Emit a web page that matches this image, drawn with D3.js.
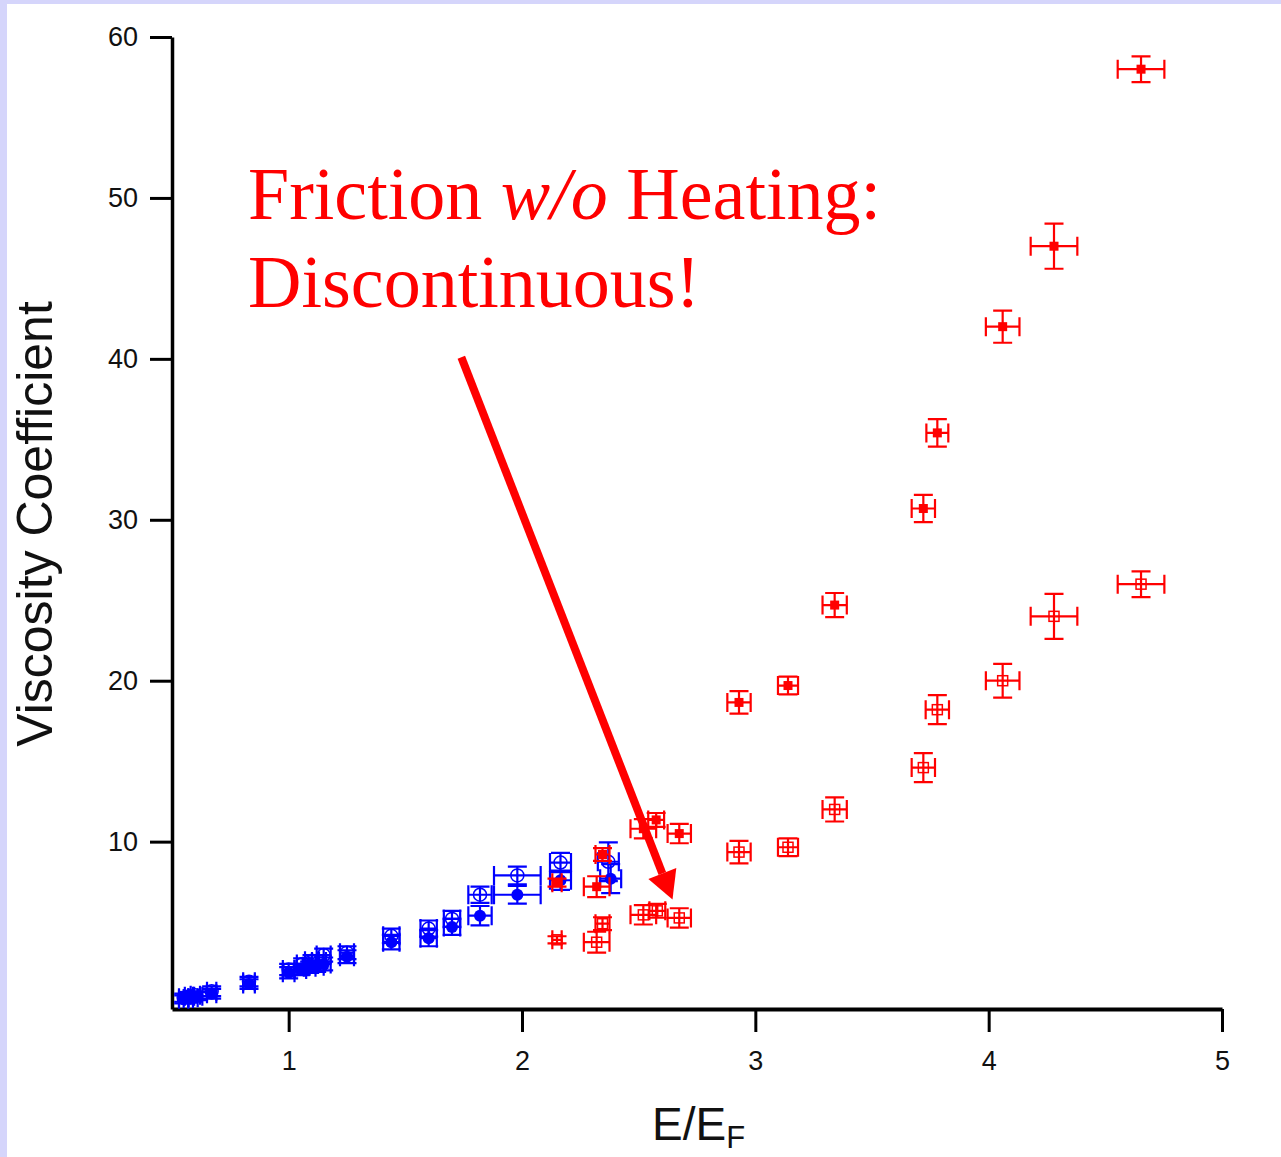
<!DOCTYPE html>
<html>
<head>
<meta charset="utf-8">
<script src="https://cdn.jsdelivr.net/npm/d3@7"></script>
<style>
  html, body { margin: 0; padding: 0; background: #d5d5fb; }
  svg { display: block; }
</style>
</head>
<body>
<div id="chart"></div>
<script>
// punti: [E/EF, viscosita, errore x, errore y]
const redFilled = [
  [4.653, 58.0, 0.10, 0.8], [4.28, 47.0, 0.10, 1.4], [4.06, 42.0, 0.072, 1.0],
  [3.78, 35.4, 0.047, 0.85], [3.72, 30.7, 0.05, 0.85], [3.34, 24.7, 0.052, 0.75],
  [3.14, 19.7, 0.043, 0.55], [2.93, 18.65, 0.05, 0.7], [2.674, 10.5, 0.05, 0.6],
  [2.575, 11.35, 0.034, 0.43], [2.52, 10.8, 0.055, 0.6], [2.345, 9.2, 0.03, 0.4],
  [2.32, 7.2, 0.055, 0.65], [2.15, 7.45, 0.02, 0.25]
];
const redOpen = [
  [4.653, 26.0, 0.10, 0.8], [4.28, 24.0, 0.10, 1.4], [4.06, 20.0, 0.072, 1.05],
  [3.78, 18.2, 0.05, 0.9], [3.72, 14.6, 0.05, 0.9], [3.34, 12.0, 0.052, 0.75],
  [3.14, 9.65, 0.043, 0.55], [2.93, 9.35, 0.05, 0.7], [2.674, 5.26, 0.05, 0.6],
  [2.58, 5.7, 0.034, 0.43], [2.52, 5.45, 0.055, 0.6], [2.345, 4.9, 0.03, 0.4],
  [2.32, 3.75, 0.055, 0.65], [2.15, 3.9, 0.02, 0.22]
];
const blueFilled = [
  [0.55, 0.2, 0.02, 0.25], [0.57, 0.25, 0.02, 0.25], [0.59, 0.3, 0.02, 0.25],
  [0.61, 0.4, 0.02, 0.25], [0.67, 0.55, 0.02, 0.3], [0.83, 1.15, 0.025, 0.3],
  [1.0, 1.85, 0.025, 0.35], [1.05, 2.05, 0.025, 0.35], [1.09, 2.2, 0.025, 0.35],
  [1.12, 2.25, 0.03, 0.35], [1.15, 2.4, 0.03, 0.4], [1.25, 2.85, 0.03, 0.4],
  [1.44, 3.75, 0.035, 0.45], [1.60, 4.0, 0.035, 0.5], [1.70, 4.7, 0.035, 0.5],
  [1.82, 5.4, 0.05, 0.6], [1.98, 6.7, 0.10, 0.55], [2.165, 7.6, 0.045, 0.6],
  [2.38, 7.7, 0.045, 0.9]
];
const blueOpen = [
  [0.55, 0.3, 0.02, 0.25], [0.575, 0.4, 0.02, 0.25], [0.60, 0.45, 0.02, 0.25],
  [0.67, 0.7, 0.02, 0.3], [0.83, 1.3, 0.025, 0.3], [1.0, 2.05, 0.025, 0.35],
  [1.06, 2.4, 0.025, 0.35], [1.10, 2.6, 0.03, 0.35], [1.13, 2.55, 0.03, 0.4],
  [1.15, 2.95, 0.03, 0.4], [1.25, 3.1, 0.03, 0.4], [1.44, 4.15, 0.035, 0.45],
  [1.60, 4.6, 0.035, 0.5], [1.70, 5.2, 0.035, 0.5], [1.82, 6.7, 0.05, 0.5],
  [1.98, 7.9, 0.10, 0.55], [2.165, 8.7, 0.045, 0.6], [2.37, 8.75, 0.045, 1.2]
];
const xTicks = [1, 2, 3, 4, 5];
const yTicks = [10, 20, 30, 40, 50, 60];
// freccia dell'annotazione, in coordinate dati: [partenza, punta]
const arrowPts = [[1.74, 40.1], [2.645, 6.4]];

const width = 1281, height = 1157;
const svg = d3.select('#chart').append('svg')
  .attr('width', width).attr('height', height);

// sfondo bianco con bordo lilla a sinistra e in alto
svg.append('rect').attr('x', 7).attr('y', 4)
  .attr('width', width - 7).attr('height', height - 4).attr('fill', '#fff');

const x = d3.scaleLinear().domain([0.5, 5]).range([172, 1222]);
const y = d3.scaleLinear().domain([-0.4, 60]).range([1009, 37]);

const font = 'Arial, "Liberation Sans", Helvetica, sans-serif';

// assi
const gx = svg.append('g').attr('transform', `translate(0,${y.range()[0]})`)
  .call(d3.axisBottom(x).tickValues(xTicks).tickFormat(d3.format('d'))
    .tickSize(23).tickSizeOuter(0).tickPadding(19));
gx.select('.domain').attr('stroke-width', 4).attr('stroke', '#000');
gx.selectAll('.tick line').attr('stroke-width', 3).attr('stroke', '#000');
gx.selectAll('.tick text').style('font', `27px ${font}`).attr('fill', '#111');

const gy = svg.append('g').attr('transform', `translate(${x.range()[0]},0)`)
  .call(d3.axisLeft(y).tickValues(yTicks).tickFormat(d3.format('d'))
    .tickSize(22).tickSizeOuter(0).tickPadding(12));
gy.select('.domain').attr('stroke-width', 3.5).attr('stroke', '#000');
gy.selectAll('.tick line').attr('stroke-width', 3).attr('stroke', '#000');
gy.selectAll('.tick text').style('font', `27px ${font}`).attr('fill', '#111');

// etichette degli assi
svg.append('text')
  .attr('transform', 'translate(52,524) rotate(-90)')
  .attr('text-anchor', 'middle')
  .style('font', `50px ${font}`).attr('fill', '#111')
  .text('Viscosity Coefficient');

const xl = svg.append('text').attr('x', 652).attr('y', 1140)
  .style('font', `46px ${font}`).attr('fill', '#111');
xl.append('tspan').text('E/E');
xl.append('tspan').attr('dy', 8).style('font-size', '31px').text('F');

// barre d'errore con cappucci di lunghezza fissa
const cap = 9.5;
function drawSeries(data, color, marker) {
  const g = svg.append('g').attr('stroke', color).attr('stroke-width', 2.2).attr('fill', 'none');
  data.forEach(d => {
    const cx = x(d[0]), cy = y(d[1]);
    const x0 = x(d[0] - d[2]), x1 = x(d[0] + d[2]);
    const y0 = y(d[1] + d[3]), y1 = y(d[1] - d[3]);
    const p = d3.path();
    p.moveTo(x0, cy); p.lineTo(x1, cy);
    p.moveTo(x0, cy - cap); p.lineTo(x0, cy + cap);
    p.moveTo(x1, cy - cap); p.lineTo(x1, cy + cap);
    p.moveTo(cx, y0); p.lineTo(cx, y1);
    p.moveTo(cx - cap, y0); p.lineTo(cx + cap, y0);
    p.moveTo(cx - cap, y1); p.lineTo(cx + cap, y1);
    g.append('path').attr('d', p.toString());
    if (marker === 'square') {
      g.append('rect').attr('x', cx - 4.5).attr('y', cy - 4.5)
        .attr('width', 9).attr('height', 9).attr('fill', color).attr('stroke', 'none');
    } else if (marker === 'openSquare') {
      g.append('rect').attr('x', cx - 5).attr('y', cy - 5)
        .attr('width', 10).attr('height', 10).attr('stroke-width', 1.5);
    } else if (marker === 'circle') {
      g.append('circle').attr('cx', cx).attr('cy', cy).attr('r', 6)
        .attr('fill', color).attr('stroke', 'none');
    } else {
      g.append('circle').attr('cx', cx).attr('cy', cy).attr('r', 6.5)
        .attr('stroke-width', 1.5);
    }
  });
}

drawSeries(blueOpen, '#0000ff', 'openCircle');
drawSeries(blueFilled, '#0000ff', 'circle');
drawSeries(redOpen, '#ff0000', 'openSquare');
drawSeries(redFilled, '#ff0000', 'square');

// annotazione
const note = svg.append('g').style('font', '74px "Liberation Serif", "Times New Roman", serif')
  .attr('fill', '#ff0000');
const l1 = note.append('text').attr('x', 248).attr('y', 219);
l1.append('tspan').text('Friction ');
l1.append('tspan').style('font-style', 'italic').text('w/o');
l1.append('tspan').text(' Heating:');
note.append('text').attr('x', 248).attr('y', 307).text('Discontinuous!');

// freccia
const [sx, sy] = [x(arrowPts[0][0]), y(arrowPts[0][1])];
const [tx, ty] = [x(arrowPts[1][0]), y(arrowPts[1][1])];
const ang = Math.atan2(ty - sy, tx - sx);
const headLen = 28, headW = 15;
const bx = tx - headLen * Math.cos(ang), by = ty - headLen * Math.sin(ang);
svg.append('line')
  .attr('x1', sx).attr('y1', sy).attr('x2', bx).attr('y2', by)
  .attr('stroke', '#ff0000').attr('stroke-width', 8);
svg.append('polygon')
  .attr('points', [
    [tx, ty],
    [bx + headW * Math.sin(ang), by - headW * Math.cos(ang)],
    [bx - headW * Math.sin(ang), by + headW * Math.cos(ang)]
  ].map(p => p.join(',')).join(' '))
  .attr('fill', '#ff0000');
</script>
</body>
</html>
